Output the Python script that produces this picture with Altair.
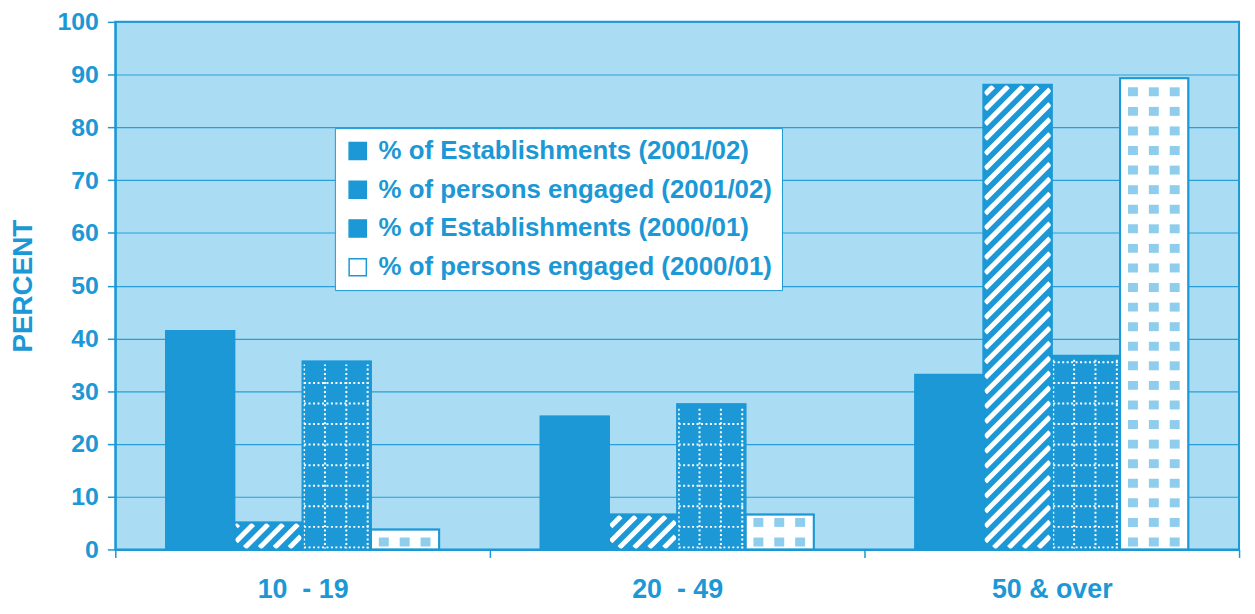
import json
import altair as alt
import numpy as np
import pandas as pd

# ---------------- data ----------------
categories = ["10\u00a0\u00a0- 19", "20\u00a0\u00a0- 49", "50 & over"]
series = [
    "% of Establishments (2001/02)",
    "% of persons engaged (2001/02)",
    "% of Establishments (2000/01)",
    "% of persons engaged (2000/01)",
]
est_2001_02 = [41.4, 25.2, 33.1]
persons_2001_02 = [5.1, 6.6, 88.1]
est_2000_01 = [35.6, 27.5, 36.7]
persons_2000_01 = [3.8, 6.6, 89.3]
y_ticks = list(range(0, 101, 10))

# ---------------- styling / layout ----------------
BLUE = "#1b98d5"
GRID = "#2a9ed8"
BG = "#aadcf3"
LIGHT = "#8ecdec"
FONT = "Liberation Sans"
W, H = 1131, 531
PX_X = W / 3.0
PX_Y = H / 100.0
BW = 0.1823
MARGIN = (1 - 4 * BW) / 2
fills = [BLUE, BLUE, BLUE, "white"]

values = [est_2001_02, persons_2001_02, est_2000_01, persons_2000_01]
rows = []
for g, cat in enumerate(categories):
    for i, s in enumerate(series):
        x0 = g + MARGIN + i * BW
        rows.append(dict(cat=cat, series=s, idx=i, value=values[i][g],
                         x0=x0, x1=x0 + BW, y0=0.0))
bars = pd.DataFrame(rows)

bw_px = BW * PX_X

# diagonal white stripes for series 2
stripes = []
SW = 5.0
PITCH = 15.0
for r in rows:
    if r["idx"] != 1:
        continue
    hp = r["value"] * PX_Y
    c = -bw_px
    while c < hp:
        xa = max(0.0, -c)
        xb = min(bw_px, hp - c)
        sh = (SW / 2) / np.sqrt(2)
        xa2, xb2 = xa + sh, xb - sh
        if xb2 > xa2:
            stripes.append(dict(xa=r["x0"] + xa2 / PX_X, xb=r["x0"] + xb2 / PX_X,
                                ya=(xa2 + c) / PX_Y, yb=(xb2 + c) / PX_Y))
        c += PITCH
stripes = pd.DataFrame(stripes)

# white dotted grid for series 3
dots = []
for r in rows:
    if r["idx"] != 2:
        continue
    hp = r["value"] * PX_Y
    for off in [1.5, 22.5, 44.0, 65.5]:
        dots.append(dict(xa=r["x0"] + off / PX_X, xb=r["x0"] + off / PX_X,
                         ya=0.0, yb=(hp - 3) / PX_Y))
    y = 2.0
    while y < hp - 3:
        dots.append(dict(xa=r["x0"] + 1.5 / PX_X, xb=r["x1"] - 1.5 / PX_X,
                         ya=y / PX_Y, yb=y / PX_Y))
        y += 20.7
dots = pd.DataFrame(dots)

# light blue squares for series 4
squares = []
for r in rows:
    if r["idx"] != 3:
        continue
    hp = r["value"] * PX_Y
    for off in [8.0, 29.0, 50.0]:
        y = 3.0
        while y < hp - 4:
            top = min(y + 9.0, hp - 3.0)
            squares.append(dict(xa=r["x0"] + off / PX_X, xb=r["x0"] + (off + 10) / PX_X,
                                ya=y / PX_Y, yb=top / PX_Y))
            y += 19.7
squares = pd.DataFrame(squares)

xscale = alt.Scale(domain=[0, 3], nice=False, zero=False)
yscale = alt.Scale(domain=[0, 100], nice=False, zero=True)

label_expr = "datum.value < 3 ? " + json.dumps(categories, ensure_ascii=False) + "[datum.value] : ''"

x_axis = alt.Axis(values=[0, 1, 2, 3], labelExpr=label_expr, labelOffset=PX_X / 2,
                  tickSize=8, tickColor=BLUE, tickWidth=1.5, domainColor=BLUE, domainWidth=2,
                  labelFontSize=27, labelFont=FONT, labelFontWeight="bold", labelColor=BLUE,
                  labelPadding=19, grid=False, title=None, labelAngle=0, labelFlush=False,
                  labelOverlap=False)
y_axis = alt.Axis(values=y_ticks, tickSize=8, tickColor=BLUE, tickWidth=1.5,
                  domainColor=BLUE, domainWidth=2, grid=True, gridColor=GRID, gridWidth=1.2,
                  labelFontSize=25, labelFont=FONT, labelFontWeight="bold", labelColor=BLUE,
                  labelPadding=9, title="PERCENT", titleFontSize=28, titleFont=FONT,
                  titleFontWeight="bold", titleColor=BLUE, titlePadding=20)

base = alt.Chart(bars).mark_rect(stroke=BLUE, strokeWidth=1.5).encode(
    x=alt.X("x0:Q", scale=xscale, axis=x_axis),
    x2="x1:Q",
    y=alt.Y("value:Q", scale=yscale, axis=y_axis),
    y2="y0:Q",
    color=alt.Color("series:N", scale=alt.Scale(domain=series, range=fills),
                    legend=alt.Legend(orient="none", legendX=221, legendY=107, title=None,
                                      fillColor="white", strokeColor=BLUE, padding=10,
                                      labelFontSize=26, labelFont=FONT, labelFontWeight="bold",
                                      labelColor=BLUE, symbolType="square", symbolSize=300,
                                      symbolStrokeColor=BLUE, symbolStrokeWidth=1.5,
                                      rowPadding=13, labelLimit=0, labelOffset=8,
                                      symbolOpacity=1)),
)

stripe_layer = alt.Chart(stripes).mark_rule(color="white", strokeWidth=SW).encode(
    x=alt.X("xa:Q", scale=xscale), x2="xb:Q",
    y=alt.Y("ya:Q", scale=yscale), y2="yb:Q",
)
dot_layer = alt.Chart(dots).mark_rule(color="white", strokeWidth=2, strokeDash=[2, 2.5]).encode(
    x=alt.X("xa:Q", scale=xscale), x2="xb:Q",
    y=alt.Y("ya:Q", scale=yscale), y2="yb:Q",
)
square_layer = alt.Chart(squares).mark_rect(color=LIGHT).encode(
    x=alt.X("xa:Q", scale=xscale), x2="xb:Q",
    y=alt.Y("ya:Q", scale=yscale), y2="yb:Q",
)
outline = alt.Chart(bars).mark_rect(fillOpacity=0, stroke=BLUE, strokeWidth=2).encode(
    x=alt.X("x0:Q", scale=xscale), x2="x1:Q",
    y=alt.Y("value:Q", scale=yscale), y2="y0:Q",
)

chart = alt.layer(base, stripe_layer, dot_layer, square_layer, outline).properties(
    width=W, height=H,
    autosize=alt.AutoSizeParams(type="none"),
    padding={"left": 108, "top": 12, "right": 8, "bottom": 55},
    background="white",
).configure_view(fill=BG, stroke=BLUE, strokeWidth=2)

chart.save("out.html", embed_options={"renderer": "svg", "actions": False})
